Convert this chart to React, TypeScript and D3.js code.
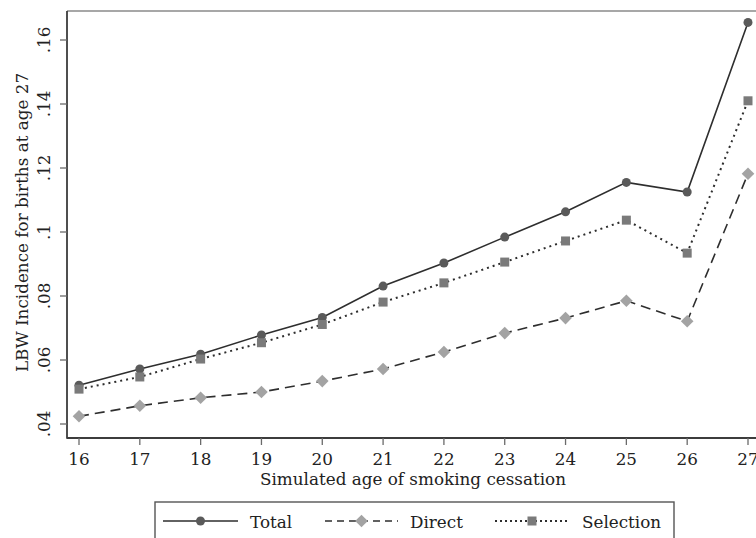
import React from "react";
import * as d3 from "d3";

// Simulated age of smoking cessation
const ages = [16, 17, 18, 19, 20, 21, 22, 23, 24, 25, 26, 27];
// LBW incidence for births at age 27
const totalValues = [0.0521, 0.0572, 0.0618, 0.0678, 0.0733, 0.0831, 0.0903, 0.0984, 0.1063, 0.1155, 0.1125, 0.1655];
const directValues = [0.0424, 0.0457, 0.0482, 0.05, 0.0534, 0.0572, 0.0625, 0.0684, 0.0731, 0.0785, 0.0721, 0.1182];
const selectionValues = [0.0509, 0.0547, 0.0603, 0.0654, 0.0711, 0.0781, 0.0841, 0.0906, 0.0972, 0.1037, 0.0934, 0.141];
const yTicks = [0.04, 0.06, 0.08, 0.1, 0.12, 0.14, 0.16];
const yTickLabels = [".04", ".06", ".08", ".1", ".12", ".14", ".16"];
const legendLabels = ["Total", "Direct", "Selection"];

const W = 756;
const H = 538;
const plot = { left: 67, top: 11, right: 761, bottom: 438 };
const FONT = "'DejaVu Serif', 'Liberation Serif', serif";
const FS = 16.8;

const x = d3.scaleLinear().domain([16, 27]).range([79, 748]);
const y = d3.scaleLinear().domain([0.04, 0.16]).range([424, 40]);

type Pt = [number, number];
const toPts = (vals: number[]): Pt[] => vals.map((v, i) => [x(ages[i]), y(v)]);
const line = d3.line<Pt>().x((d) => d[0]).y((d) => d[1]);

const circle = (cx: number, cy: number, key?: string | number) => (
  <circle key={key} cx={cx} cy={cy} r={4.5} fill="#5a5a5a" />
);
const diamond = (cx: number, cy: number, key?: string | number) => (
  <path
    key={key}
    d={`M${cx},${cy - 6.3}L${cx + 6.3},${cy}L${cx},${cy + 6.3}L${cx - 6.3},${cy}Z`}
    fill="#a3a3a3"
  />
);
const square = (cx: number, cy: number, key?: string | number) => (
  <rect key={key} x={cx - 4.5} y={cy - 4.5} width={9} height={9} fill="#7a7a7a" />
);

const series = [
  { label: legendLabels[0], values: totalValues, dash: undefined as string | undefined, width: 1.6, marker: circle },
  { label: legendLabels[1], values: directValues, dash: "10,6", width: 1.6, marker: diamond },
  { label: legendLabels[2], values: selectionValues, dash: "2,4", width: 2, marker: square },
];

export default function App() {
  const legendItems = [
    { x0: 163, x1: 238, tx: 250 },
    { x0: 325, x1: 398, tx: 410 },
    { x0: 495, x1: 569, tx: 582 },
  ];
  const ly = 521;
  return (
    <svg
      width={W}
      height={H}
      style={{ position: "absolute", left: 0, top: 0, background: "#fff" }}
      fontFamily={FONT}
    >
      <rect x={0} y={0} width={W} height={H} fill="#fff" />
      {/* plot frame */}
      <line x1={plot.left} x2={plot.right} y1={plot.top} y2={plot.top} stroke="#8a8a8a" strokeWidth={1.6} />
      <line x1={plot.right} x2={plot.right} y1={plot.top} y2={plot.bottom} stroke="#8a8a8a" strokeWidth={1.6} />
      <line x1={plot.left} x2={plot.left} y1={plot.top} y2={plot.bottom + 0.8} stroke="#3c3c3c" strokeWidth={1.8} />
      <line x1={plot.left} x2={plot.right} y1={plot.bottom} y2={plot.bottom} stroke="#3c3c3c" strokeWidth={1.8} />

      {/* y axis */}
      {yTicks.map((t, i) => (
        <g key={t}>
          <line x1={plot.left - 7} x2={plot.left} y1={y(t)} y2={y(t)} stroke="#6a6a6a" strokeWidth={1.3} />
          <text
            transform={`translate(50,${y(t)}) rotate(-90)`}
            textAnchor="middle"
            fontSize={FS}
            fill="#222"
          >
            {yTickLabels[i]}
          </text>
        </g>
      ))}
      <text
        transform={`translate(28,${(plot.top + plot.bottom) / 2 - 2}) rotate(-90)`}
        textAnchor="middle"
        fontSize={FS}
        fill="#222"
      >
        LBW Incidence for births at age 27
      </text>

      {/* x axis */}
      {ages.map((a) => (
        <g key={a}>
          <line x1={x(a)} x2={x(a)} y1={plot.bottom} y2={plot.bottom + 7} stroke="#6a6a6a" strokeWidth={1.3} />
          <text x={x(a)} y={465} textAnchor="middle" fontSize={FS} fill="#222">
            {a}
          </text>
        </g>
      ))}
      <text x={413} y={485} textAnchor="middle" fontSize={FS} fill="#222">
        Simulated age of smoking cessation
      </text>

      {/* series */}
      {series.map((s) => {
        const pts = toPts(s.values);
        return (
          <g key={s.label}>
            <path d={line(pts) || ""} fill="none" stroke="#2e2e2e" strokeWidth={s.width} strokeDasharray={s.dash} />
            {pts.map((p, i) => s.marker(p[0], p[1], i))}
          </g>
        );
      })}

      {/* legend */}
      <rect x={155} y={502} width={519} height={60} fill="#fff" stroke="#555" strokeWidth={1.4} />
      {series.map((s, i) => {
        const it = legendItems[i];
        const cx = (it.x0 + it.x1) / 2;
        return (
          <g key={s.label}>
            <line x1={it.x0} x2={it.x1} y1={ly} y2={ly} stroke="#2e2e2e" strokeWidth={s.width} strokeDasharray={s.dash ? (i === 1 ? "7,5" : "2,3") : undefined} />
            {s.marker(cx, ly)}
            <text x={it.tx} y={ly + 7} fontSize={FS} fill="#222">
              {s.label}
            </text>
          </g>
        );
      })}
    </svg>
  );
}
